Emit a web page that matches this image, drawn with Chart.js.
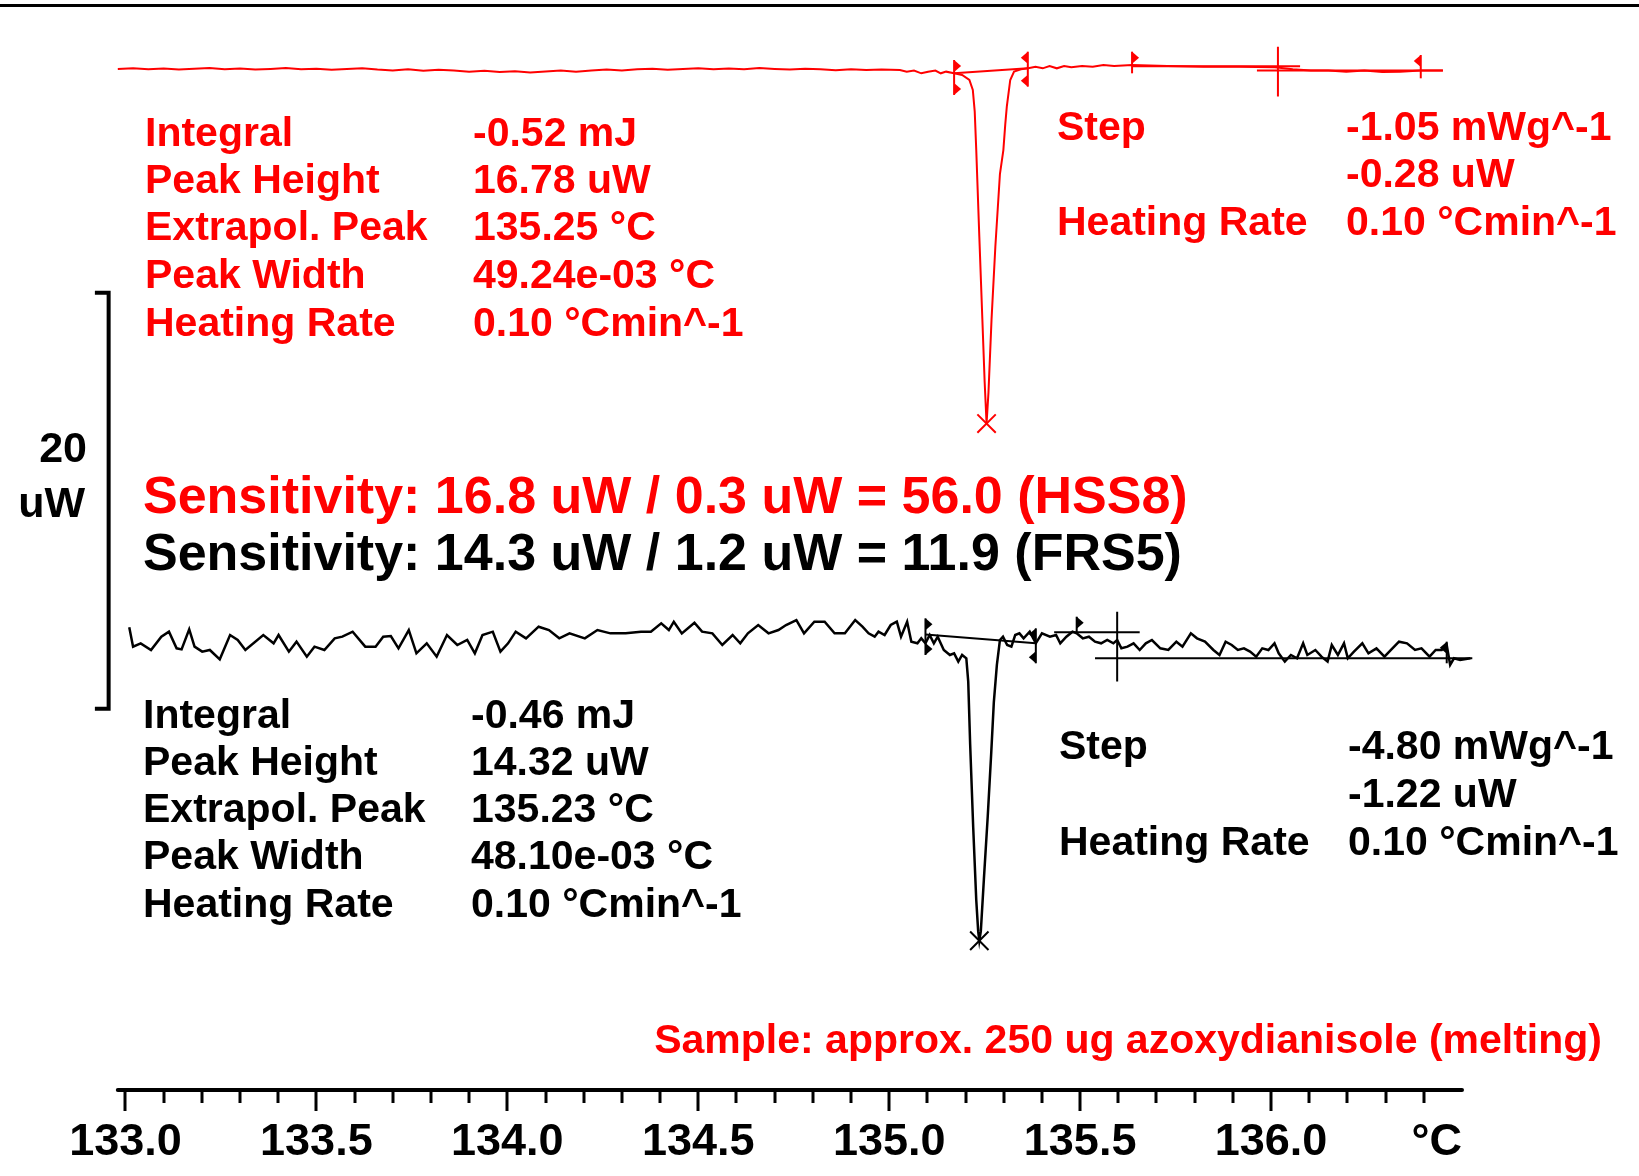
<!DOCTYPE html>
<html>
<head>
<meta charset="utf-8">
<script src="https://cdn.jsdelivr.net/npm/chart.js@4.4.1/dist/chart.umd.min.js"></script>
<style>
  html, body { margin: 0; padding: 0; background: #fff; }
  canvas { display: block; }
</style>
</head>
<body>
<canvas id="dscChart" width="1639" height="1176"></canvas>
<script>
// Temperature axis (°C)
const xTicks = [133.0, 133.5, 134.0, 134.5, 135.0, 135.5, 136.0];
const xUnit = "°C";
const xUnitAt = 136.434;

// HSS8 sensor (red), heat flow in uW relative to its own baseline
const redT = [132.98, 133.02, 133.06, 133.10, 133.14, 133.18, 133.22, 133.26, 133.30, 133.34,
  133.38, 133.42, 133.46, 133.50, 133.54, 133.58, 133.62, 133.66, 133.70, 133.74,
  133.78, 133.82, 133.86, 133.90, 133.94, 133.98, 134.02, 134.06, 134.10, 134.14,
  134.18, 134.22, 134.26, 134.30, 134.34, 134.38, 134.42, 134.46, 134.50, 134.54,
  134.58, 134.62, 134.66, 134.70, 134.74, 134.78, 134.82, 134.86, 134.90, 134.94, 134.98,
  135.028, 135.046, 135.065, 135.084, 135.102, 135.121, 135.135, 135.149, 135.170, 135.191,
  135.210, 135.219, 135.224, 135.228, 135.236, 135.244, 135.250, 135.255, 135.260, 135.268,
  135.278, 135.290, 135.299, 135.304, 135.308, 135.317, 135.327, 135.345, 135.364, 135.383,
  135.402, 135.420, 135.439, 135.458, 135.477, 135.505, 135.533, 135.561, 135.589, 135.636,
  135.729, 135.823, 135.916, 136.010, 136.057, 136.104, 136.150, 136.197, 136.244, 136.291,
  136.338, 136.392, 136.450];
const redUW = [0.05, 0.08, 0.03, 0.07, 0.02, 0.06, 0.10, 0.04, 0.07, 0.02,
  0.05, 0.09, 0.03, 0.06, 0.01, 0.05, 0.08, 0.02, -0.02, 0.03,
  -0.04, 0.01, -0.03, -0.08, -0.04, -0.10, -0.06, -0.12, -0.07, -0.03,
  -0.08, -0.02, 0.02, -0.03, 0.03, 0.06, 0.01, 0.05, 0.08, 0.03,
  0.07, 0.04, 0.09, 0.05, 0.02, 0.06, 0.03, -0.01, 0.04, 0.00, 0.02,
  0.00, -0.08, -0.03, -0.16, -0.08, -0.03, -0.16, -0.08, -0.16, -0.24,
  -0.48, -0.96, -2.0, -3.85, -8.0, -12.0, -15.0, -17.0, -15.5, -12.0,
  -8.5, -5.0, -3.85, -2.6, -1.76, -0.48, -0.08, 0.03, 0.08, 0.16,
  0.08, 0.19, 0.08, 0.19, 0.13, 0.19, 0.16, 0.24, 0.19, 0.24,
  0.19, 0.16, 0.16, 0.13, 0.03, -0.03, -0.03, -0.08, -0.03, -0.10,
  -0.08, -0.03, -0.03];

// FRS5 sensor (black)
const blackT = [133.010, 133.020, 133.040, 133.067, 133.094, 133.114, 133.134, 133.147, 133.167, 133.181,
  133.201, 133.221, 133.247, 133.274, 133.294, 133.314, 133.361, 133.388, 133.401, 133.428,
  133.448, 133.475, 133.495, 133.521, 133.548, 133.568, 133.595, 133.628, 133.655, 133.675,
  133.695, 133.715, 133.742, 133.762, 133.789, 133.815, 133.842, 133.869, 133.895, 133.915,
  133.935, 133.962, 133.982, 134.002, 134.022, 134.049, 134.082, 134.109, 134.136, 134.163,
  134.203, 134.236, 134.270, 134.310, 134.350, 134.376, 134.403, 134.423, 134.436, 134.457,
  134.490, 134.510, 134.537, 134.563, 134.590, 134.610, 134.630, 134.657, 134.684, 134.710,
  134.730, 134.757, 134.777, 134.804, 134.831, 134.857, 134.884, 134.911,
  134.930, 134.946, 134.962, 134.972, 134.988, 135.004, 135.020, 135.031, 135.047, 135.058,
  135.074, 135.084, 135.095, 135.106, 135.117, 135.127, 135.143, 135.159, 135.170, 135.181,
  135.191, 135.202,
  135.207, 135.212, 135.220, 135.228, 135.233, 135.236, 135.240, 135.248, 135.258, 135.267,
  135.274, 135.282, 135.290,
  135.298, 135.309, 135.320, 135.330, 135.341, 135.352, 135.368, 135.384, 135.400, 135.421,
  135.437, 135.448, 135.464, 135.480, 135.491, 135.507, 135.523, 135.539, 135.555, 135.571,
  135.587, 135.597, 135.608, 135.624, 135.640, 135.656, 135.672, 135.688, 135.710, 135.731,
  135.752, 135.768, 135.790, 135.806, 135.827, 135.849, 135.865, 135.881, 135.897, 135.913,
  135.929, 135.945, 135.961, 135.977, 135.993, 136.009, 136.020, 136.036, 136.052, 136.068,
  136.084, 136.095, 136.116, 136.132, 136.148, 136.159, 136.175, 136.191, 136.201, 136.217,
  136.239, 136.255, 136.276, 136.297, 136.314, 136.335, 136.356, 136.377, 136.394, 136.415,
  136.431, 136.447, 136.460, 136.469, 136.479, 136.495, 136.522];
const blackUW = [0.61, -0.32, -0.16, -0.48, 0.16, 0.40, -0.40, -0.45, 0.51, -0.32,
  -0.56, -0.48, -0.93, 0.24, 0.0, -0.48, 0.24, -0.16, 0.24, -0.56,
  -0.08, -0.80, -0.32, -0.48, 0.08, 0.16, 0.40, -0.32, -0.32, 0.16,
  0.19, -0.40, 0.48, -0.64, -0.16, -0.80, 0.24, -0.24, 0.0, -0.64,
  0.24, 0.40, -0.56, -0.16, 0.40, 0.08, 0.64, 0.48, 0.08, 0.32,
  0.08, 0.48, 0.32, 0.32, 0.40, 0.40, 0.80, 0.48, 0.88, 0.32,
  0.83, 0.40, 0.32, -0.24, 0.24, -0.16, 0.32, 0.72, 0.32, 0.48,
  0.72, 0.96, 0.32, 0.88, 0.88, 0.32, 0.32, 0.96,
  0.64, 0.32, 0.16, 0.40, 0.24, 0.72, 0.88, 0.16, 0.88, -0.08,
  -0.16, 0.08, -0.16, 0.24, -0.16, 0.16, -0.48, -0.72, -0.64, -1.04,
  -0.72, -0.88,
  -2.0, -5.0, -9.0, -12.5, -14.0, -14.46, -14.0, -11.5, -8.5, -5.5,
  -3.0, -1.2, 0.0,
  0.16, -0.24, -0.32, 0.24, 0.32, 0.08, 0.40, -0.16, 0.32, 0.16,
  0.24, -0.16, 0.16, 0.40, 0.32, 0.08, 0.16, -0.08, -0.16, 0.0,
  -0.16, 0.0, -0.40, -0.32, -0.16, -0.48, -0.16, 0.0, -0.40, -0.48,
  -0.08, -0.32, 0.32, 0.08, -0.08, -0.48, -0.72, -0.08, -0.24, -0.48,
  -0.40, -0.56, -0.80, -0.40, -0.48, -0.16, -0.64, -1.04, -0.72, -0.88,
  -0.16, -0.72, -0.48, -0.80, -1.04, -0.24, -0.72, -0.16, -0.88, -0.56,
  -0.16, -0.64, -0.40, -0.80, -0.48, -0.08, -0.16, -0.48, -0.40, -0.80,
  -0.48, -0.48, -0.24, -1.20, -0.88, -0.96, -0.88];

// evaluation lines: [t1, uW1, t2, uW2]
const redGuides = [[135.170, -0.16, 135.363, 0.08], [135.636, 0.18, 136.076, 0.18],
  [135.963, -0.03, 136.450, -0.03], [136.018, 1.12, 136.018, -1.28]];
const blackGuides = [[135.095, 0.27, 135.384, -0.16], [135.432, 0.37, 135.656, 0.37],
  [135.539, -0.88, 136.527, -0.88], [135.597, 1.36, 135.597, -2.0]];

// evaluation limit flags
const redMarkT = [135.170, 135.363, 135.636, 136.392];
const redMarkTop = [0.48, 0.88, 0.88, 0.72];
const redMarkBottom = [-1.20, -0.80, -0.16, -0.40];
const blackMarkT = [135.095, 135.384, 135.491, 136.460];
const blackMarkTop = [1.04, 0.56, 1.12, -0.08];
const blackMarkBottom = [-0.72, -1.12, 0.32, -1.12];
const markDir = [1, -1, 1, -1];
const markBoth = [true, true, false, false];

// peak minima
const redPeak = { x: 135.255, y: -17.0 };
const blackPeak = { x: 135.236, y: -14.46 };

// 20 uW scale bar
const scaleBarUW = 20;
const scaleBarFrom = -3.3;

// texts
const blockLabels = ["Integral", "Peak Height", "Extrapol. Peak", "Peak Width", "Heating Rate"];
const redValues = ["-0.52 mJ", "16.78 uW", "135.25 °C", "49.24e-03 °C", "0.10 °Cmin^-1"];
const blackValues = ["-0.46 mJ", "14.32 uW", "135.23 °C", "48.10e-03 °C", "0.10 °Cmin^-1"];
const stepLabels = ["Step", "", "Heating Rate"];
const redStepValues = ["-1.05 mWg^-1", "-0.28 uW", "0.10 °Cmin^-1"];
const blackStepValues = ["-4.80 mWg^-1", "-1.22 uW", "0.10 °Cmin^-1"];
const redSensitivity = "Sensitivity: 16.8 uW / 0.3 uW = 56.0 (HSS8)";
const blackSensitivity = "Sensitivity: 14.3 uW / 1.2 uW = 11.9 (FRS5)";
const sampleNote = "Sample: approx. 250 ug azoxydianisole (melting)";
const scaleBarLabel = ["20", "uW"];

const INK = "#000000";
const RED = "#ff0000";
const FONT = '"Liberation Sans", Arial, Helvetica, sans-serif';

const pairs = (xs, ys) => xs.map((x, i) => ({ x: x, y: ys[i] }));
function segments(list) {
  const out = [];
  list.forEach(s => {
    out.push({ x: s[0], y: s[1] }, { x: s[2], y: s[3] }, { x: s[2], y: null });
  });
  return out;
}

function flag(ctx, x, y, dir) {
  ctx.beginPath();
  ctx.moveTo(x, y);
  ctx.lineTo(x, y + 12);
  ctx.lineTo(x + dir * 7, y + 6);
  ctx.closePath();
  ctx.fill();
}

function drawMarks(ctx, xs, ys, T, top, bottom, color) {
  ctx.strokeStyle = color;
  ctx.fillStyle = color;
  ctx.lineWidth = 2;
  T.forEach((t, i) => {
    const px = xs.getPixelForValue(t);
    const pt = ys.getPixelForValue(top[i]);
    const pb = ys.getPixelForValue(bottom[i]);
    ctx.beginPath();
    ctx.moveTo(px, pt);
    ctx.lineTo(px, pb);
    ctx.stroke();
    flag(ctx, px, pt, markDir[i]);
    if (markBoth[i]) flag(ctx, px, pb - 12, markDir[i]);
  });
}

function textBlock(ctx, labels, values, lx, vx, ys, color) {
  ctx.fillStyle = color;
  ys.forEach((y, i) => {
    if (labels[i]) ctx.fillText(labels[i], lx, y);
    if (values[i]) ctx.fillText(values[i], vx, y);
  });
}

const annotate = {
  id: "annotate",
  afterDraw(chart) {
    const ctx = chart.ctx;
    const area = chart.chartArea;
    const xs = chart.scales.x;
    const yr = chart.scales.yRed;
    const yb = chart.scales.yBlack;
    ctx.save();

    // frame line on top
    ctx.fillStyle = INK;
    ctx.fillRect(0, 4, chart.width, 3);

    // temperature axis with minor ticks every 0.1
    ctx.strokeStyle = INK;
    ctx.lineCap = "round";
    ctx.lineWidth = 4;
    ctx.beginPath();
    ctx.moveTo(area.left, area.bottom);
    ctx.lineTo(area.right, area.bottom);
    ctx.stroke();
    ctx.lineCap = "butt";
    ctx.lineWidth = 3;
    for (let k = 0; k <= 34; k++) {
      const px = Math.round(xs.getPixelForValue(133 + k * 0.1));
      const len = k % 5 === 0 ? 21 : 13;
      ctx.beginPath();
      ctx.moveTo(px, area.bottom);
      ctx.lineTo(px, area.bottom + len);
      ctx.stroke();
    }

    drawMarks(ctx, xs, yr, redMarkT, redMarkTop, redMarkBottom, RED);
    drawMarks(ctx, xs, yb, blackMarkT, blackMarkTop, blackMarkBottom, INK);

    ctx.textBaseline = "middle";
    ctx.textAlign = "left";
    ctx.font = "bold 41px " + FONT;
    textBlock(ctx, blockLabels, redValues, 145, 473, [135, 182, 229, 277, 325], RED);
    textBlock(ctx, stepLabels, redStepValues, 1057, 1346, [129, 176, 224], RED);
    textBlock(ctx, blockLabels, blackValues, 143, 471, [717, 764, 811, 858, 906], INK);
    textBlock(ctx, stepLabels, blackStepValues, 1059, 1348, [748, 796, 844], INK);

    ctx.font = "bold 52px " + FONT;
    ctx.fillStyle = RED;
    ctx.fillText(redSensitivity, 143, 499);
    ctx.fillStyle = INK;
    ctx.fillText(blackSensitivity, 143, 556);

    ctx.font = "bold 41px " + FONT;
    ctx.textAlign = "right";
    ctx.fillStyle = RED;
    ctx.fillText(sampleNote, 1602, 1042);

    ctx.font = "bold 43px " + FONT;
    ctx.fillStyle = INK;
    ctx.fillText(scaleBarLabel[0], 87, 450);
    ctx.fillText(scaleBarLabel[1], 85, 505);
    ctx.restore();
  }
};

const lineSet = (data, axis, color, width) => ({
  type: "line", data: data, yAxisID: axis, borderColor: color, borderWidth: width,
  pointRadius: 0, tension: 0, fill: false, spanGaps: false, clip: false
});

const barTop = scaleBarFrom + scaleBarUW;
const bracket = [{ x: 132.920, y: barTop }, { x: 132.956, y: barTop },
  { x: 132.956, y: scaleBarFrom }, { x: 132.920, y: scaleBarFrom }];

new Chart(document.getElementById("dscChart").getContext("2d"), {
  type: "line",
  data: {
    datasets: [
      lineSet(pairs(redT, redUW), "yRed", RED, 2),
      lineSet(pairs(blackT, blackUW), "yBlack", INK, 2.5),
      lineSet(segments(redGuides), "yRed", RED, 2),
      lineSet(segments(blackGuides), "yBlack", INK, 2),
      Object.assign(lineSet(bracket, "yBlack", INK, 4), { borderJoinStyle: "miter" }),
      {
        type: "scatter", data: [redPeak], yAxisID: "yRed", pointStyle: "crossRot",
        pointRadius: 13, borderColor: RED, borderWidth: 2, clip: false
      },
      {
        type: "scatter", data: [blackPeak], yAxisID: "yBlack", pointStyle: "crossRot",
        pointRadius: 13, borderColor: INK, borderWidth: 2, clip: false
      }
    ]
  },
  options: {
    responsive: false,
    devicePixelRatio: 1,
    animation: false,
    events: [],
    layout: { autoPadding: false, padding: { left: 117.8, right: 177, top: 0, bottom: 10 } },
    plugins: { legend: { display: false }, tooltip: { enabled: false }, title: { display: false } },
    scales: {
      x: {
        type: "linear",
        min: 132.98,
        max: 136.5,
        grid: { display: false, drawTicks: false },
        border: { display: false },
        afterBuildTicks: scale => {
          scale.ticks = xTicks.concat([xUnitAt]).map(v => ({ value: v }));
        },
        afterFit: scale => { scale.height = 76; },
        ticks: {
          autoSkip: false,
          maxRotation: 0,
          padding: 26,
          color: INK,
          font: { family: FONT, size: 45, weight: "bold" },
          callback: value => (value === xUnitAt ? xUnit : value.toFixed(1))
        }
      },
      yRed: { type: "linear", display: false, min: -49.04, max: 3.365 },
      yBlack: { type: "linear", display: false, min: -21.635, max: 30.77 }
    }
  },
  plugins: [annotate]
});
</script>
</body>
</html>
